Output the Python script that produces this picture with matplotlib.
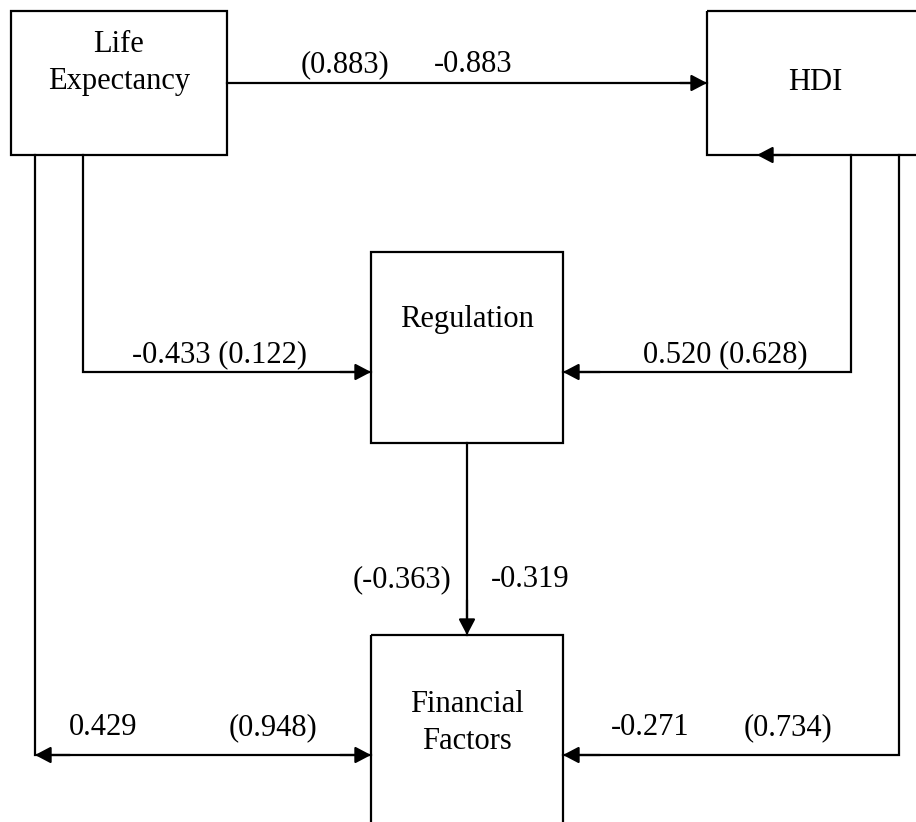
import matplotlib.pyplot as plt
from matplotlib.patches import Rectangle

plt.rcParams['font.family'] = ['Liberation Serif', 'DejaVu Serif']

# node labels
nodes = ["Life\nExpectancy", "HDI", "Regulation", "Financial\nFactors"]

# path coefficient labels (as printed on the diagram)
le_hdi = ["(0.883)", "-0.883"]
le_reg = ["-0.433 (0.122)"]
hdi_reg = ["0.520 (0.628)"]
reg_ff = ["(-0.363)", "-0.319"]
le_ff = ["0.429", "(0.948)"]
hdi_ff = ["-0.271", "(0.734)"]

W, H = 916, 822
fig = plt.figure(figsize=(W / 100, H / 100), dpi=100)
ax = fig.add_axes([0, 0, 1, 1])
ax.set_xlim(0, W)
ax.set_ylim(H, 0)
ax.axis("off")

LW = 1.6
FS = 22

def box(x0, y0, x1, y1):
    ax.add_patch(Rectangle((x0, y0), x1 - x0, y1 - y0, fill=False,
                           lw=LW, ec="black", clip_on=True))

def line(xs, ys):
    ax.plot(xs, ys, color="black", lw=LW, solid_capstyle="projecting",
            solid_joinstyle="miter")

def head(tip, frm):
    ax.annotate("", xy=tip, xytext=frm,
                arrowprops=dict(arrowstyle="-|>,head_length=0.95,head_width=0.5",
                                mutation_scale=10, lw=LW, color="black",
                                shrinkA=0, shrinkB=0))

# boxes
box(11, 11, 227, 155)
box(707, 11, 940, 155)
box(371, 252, 563, 443)
box(371, 635, 563, 850)

ax.text(119, 52, nodes[0].split("\n")[0], fontsize=FS, ha="center", va="baseline")
ax.text(119, 89, nodes[0].split("\n")[1], fontsize=FS, ha="center", va="baseline")
ax.text(815, 90, nodes[1], fontsize=FS, ha="center", va="baseline")
ax.text(467, 327, nodes[2], fontsize=FS, ha="center", va="baseline")
ax.text(467, 712, nodes[3].split("\n")[0], fontsize=FS, ha="center", va="baseline")
ax.text(467, 749, nodes[3].split("\n")[1], fontsize=FS, ha="center", va="baseline")

# Life Expectancy -> HDI
line([227, 707], [83, 83])
head((707, 83), (680, 83))
ax.text(345, 72, le_hdi[0], fontsize=FS, ha="center", va="baseline")
ax.text(473, 72, le_hdi[1], fontsize=FS, ha="center", va="baseline")

# arrowhead on HDI bottom edge
head((757, 155), (790, 155))

# Life Expectancy -> Regulation
line([83, 83, 371], [155, 372, 372])
head((371, 372), (340, 372))
ax.text(219, 362, le_reg[0], fontsize=FS, ha="center", va="baseline")

# HDI -> Regulation
line([851, 851, 563], [155, 372, 372])
head((563, 372), (600, 372))
ax.text(725, 362, hdi_reg[0], fontsize=FS, ha="center", va="baseline")

# Regulation -> Financial Factors
line([467, 467], [443, 635])
head((467, 635), (467, 600))
ax.text(451, 587, reg_ff[0], fontsize=FS, ha="right", va="baseline")
ax.text(491, 587, reg_ff[1], fontsize=FS, ha="left", va="baseline")

# Life Expectancy <-> Financial Factors
line([35, 35, 371], [155, 755, 755])
head((371, 755), (340, 755))
head((35, 755), (70, 755))
ax.text(103, 735, le_ff[0], fontsize=FS, ha="center", va="baseline")
ax.text(273, 735, le_ff[1], fontsize=FS, ha="center", va="baseline")

# HDI -> Financial Factors
line([899, 899, 563], [155, 755, 755])
head((563, 755), (600, 755))
ax.text(650, 735, hdi_ff[0], fontsize=FS, ha="center", va="baseline")
ax.text(788, 735, hdi_ff[1], fontsize=FS, ha="center", va="baseline")

fig.savefig("out.png", dpi=100)
